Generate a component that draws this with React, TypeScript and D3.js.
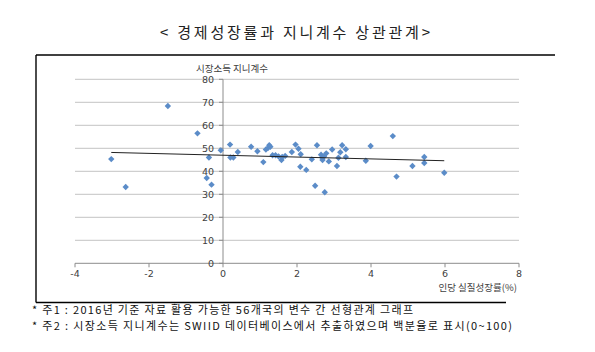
import React from "react";
import * as d3 from "d3";

// growth rate (%) per country
const growth = [
  -3.02, -2.63, -1.49, -0.69, -0.38, -0.44, -0.31, -0.06, 0.19, 0.2, 0.28, 0.4,
  0.76, 0.93, 1.09, 1.16, 1.22, 1.25, 1.28, 1.34, 1.42, 1.5, 1.58, 1.6, 1.68,
  1.86, 1.96, 2.04, 2.1, 2.09, 2.25, 2.4, 2.49, 2.54, 2.65, 2.68, 2.69, 2.73,
  2.75, 2.79, 2.86, 2.95, 3.08, 3.12, 3.17, 3.22, 3.32, 3.32, 3.86, 3.99, 4.59,
  4.69, 5.12, 5.44, 5.44, 5.98,
];
// market income gini
const gini = [
  45.3, 33.2, 68.4, 56.5, 46.0, 37.1, 34.2, 49.1, 51.6, 46.0, 46.0, 48.4,
  50.7, 48.7, 44.0, 49.5, 50.2, 51.3, 50.7, 47.0, 47.0, 46.5, 44.9, 46.2, 46.7,
  48.4, 51.6, 49.8, 47.4, 42.0, 40.6, 45.2, 33.7, 51.3, 47.2, 46.0, 44.9, 46.4,
  30.9, 47.8, 44.3, 49.5, 42.3, 45.9, 48.3, 51.3, 49.6, 46.2, 44.6, 51.0, 55.3,
  37.7, 42.3, 46.2, 43.6, 39.4,
];
const trendX = [-3.02, 5.98];
const trendY = [48.2, 44.6];

const xTicks = [-4, -2, 0, 2, 4, 6, 8];
const yTicks = [0, 10, 20, 30, 40, 50, 60, 70, 80];

const title = "< 경제성장률과 지니계수 상관관계>";
const yTitle = "시장소득 지니계수";
const xTitle = "인당 실질성장률(%)";
const notes = [
  "* 주1 : 2016년 기준 자료 활용 가능한 56개국의 변수 간 선형관계 그래프",
  "* 주2 : 시장소득 지니계수는 SWIID 데이터베이스에서 추출하였으며 백분율로 표시(0~100)",
];

const KR = "'Noto Sans CJK KR', 'Noto Sans', sans-serif";
const TICKFONT = "'DejaVu Sans', sans-serif";

export default function App() {
  const x = d3.scaleLinear().domain([-4, 8]).range([75, 519]);
  const y = d3.scaleLinear().domain([0, 80]).range([263.3, 79.3]);
  const pts = growth.map((g, i) => ({ g, v: gini[i] }));
  const trend = d3
    .line<number>()
    .x((d) => x(d))
    .y((_, i) => y(trendY[i]));
  const diamond = (cx: number, cy: number) =>
    `M${cx},${cy - 3.2}L${cx + 3.2},${cy}L${cx},${cy + 3.2}L${cx - 3.2},${cy}Z`;

  return (
    <svg
      width={595}
      height={352}
      style={{ position: "absolute", left: 0, top: 0, background: "#fff" }}
    >
      <text
        x={295}
        y={38}
        textAnchor="middle"
        fontFamily={KR}
        fontSize={15}
        fill="#222"
        textLength={270}
        lengthAdjust="spacing"
      >
        {title}
      </text>

      {/* frame */}
      <g stroke="#000" strokeWidth={1.4} fill="none">
        <line x1={36} x2={555} y1={55} y2={55} />
        <line x1={36} x2={36} y1={55} y2={302.5} />
        <line x1={36} x2={506} y1={302.5} y2={302.5} />
      </g>

      {/* grid */}
      {yTicks.slice(1).map((t) => (
        <line key={t} x1={x(-4)} x2={x(8)} y1={y(t)} y2={y(t)} stroke="#c3c3c3" strokeWidth={1} />
      ))}
      <line x1={x(-4)} x2={x(8)} y1={y(0)} y2={y(0)} stroke="#8c8c8c" strokeWidth={1} />
      <line x1={x(0)} x2={x(0)} y1={y(80)} y2={y(0)} stroke="#8c8c8c" strokeWidth={1} />
      {xTicks.map((t) => (
        <line key={t} x1={x(t)} x2={x(t)} y1={y(0)} y2={y(0) + 4} stroke="#8c8c8c" />
      ))}
      {yTicks.map((t) => (
        <line key={t} x1={x(0) - 4} x2={x(0)} y1={y(t)} y2={y(t)} stroke="#8c8c8c" />
      ))}

      {/* tick labels */}
      <g fontFamily={TICKFONT} fontSize={9.5} fill="#404040">
        {yTicks.map((t) => (
          <text key={t} x={x(0) - 9} y={y(t) + 3.4} textAnchor="end">
            {t}
          </text>
        ))}
        {xTicks.map((t) => (
          <text key={t} x={x(t)} y={y(0) + 14} textAnchor="middle">
            {t}
          </text>
        ))}
      </g>

      <text x={232} y={72} textAnchor="middle" fontFamily={KR} fontSize={9.5} fill="#404040">
        {yTitle}
      </text>
      <text x={517} y={291} textAnchor="end" fontFamily={KR} fontSize={9.5} fill="#404040">
        {xTitle}
      </text>

      {/* points */}
      {pts.map((p, i) => (
        <path key={i} d={diamond(x(p.g), y(p.v))} fill="#5b8cc8" />
      ))}

      <path d={trend(trendX) ?? ""} stroke="#222" strokeWidth={1} fill="none" />

      {notes.map((n, i) => (
        <text
          key={i}
          x={32}
          y={314 + i * 16}
          fontFamily={KR}
          fontSize={11}
          fill="#111"
          textLength={i === 0 ? 381 : 480}
          lengthAdjust="spacing"
        >
          {n}
        </text>
      ))}
    </svg>
  );
}
